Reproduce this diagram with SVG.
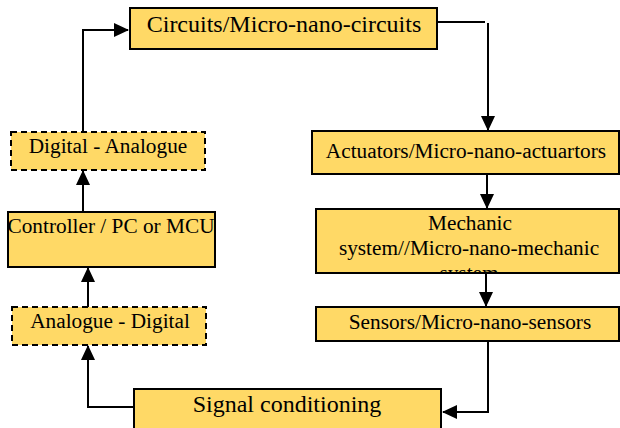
<svg xmlns="http://www.w3.org/2000/svg" width="620" height="428" viewBox="0 0 620 428">
<style>
.box{fill:#FFD966;stroke:#000;stroke-width:2}
.dash{stroke-dasharray:6 4}
.t{font-family:'Liberation Serif','Times New Roman',Times,serif;font-size:21.3px;fill:#000;text-anchor:middle}
.big{font-size:24px}
.c{fill:none;stroke:#000;stroke-width:2}
</style>
<defs>
<marker id="ah" markerUnits="userSpaceOnUse" markerWidth="15" markerHeight="14" refX="14" refY="7" orient="auto">
<path d="M0,0 L15,7 L0,14 z" fill="#000"/>
</marker>
<clipPath id="mclip"><rect x="316" y="209" width="303" height="64"/></clipPath>
</defs>
<rect width="620" height="428" fill="#fff"/>
<g id="connectors">
<path class="c" d="M83,132 V30 H128" marker-end="url(#ah)"/>
<path class="c" d="M437,22 H485" stroke-width="1.6"/>
<path class="c" d="M488,23 V130" marker-end="url(#ah)"/>
<path class="c" d="M487,174 V208" marker-end="url(#ah)"/>
<path class="c" d="M486,273 V306" marker-end="url(#ah)"/>
<path class="c" d="M488,341 V412 H443" marker-end="url(#ah)"/>
<path class="c" d="M134,407 H88 V346" marker-end="url(#ah)"/>
<path class="c" d="M88,307 V268" marker-end="url(#ah)"/>
<path class="c" d="M83,212 V171" marker-end="url(#ah)"/>
</g>
<g id="circuits">
<rect class="box" x="130" y="8" width="307" height="41"/>
<text class="t big" font-family="Liberation Serif, serif" x="284" y="32">Circuits/Micro-nano-circuits</text>
</g>
<g id="actuators">
<rect class="box" x="312" y="131" width="307" height="43"/>
<text class="t" font-family="Liberation Serif, serif" x="466" y="158">Actuators/Micro-nano-actuartors</text>
</g>
<g id="mechanic">
<rect class="box" x="316" y="209" width="303" height="64"/>
<g clip-path="url(#mclip)">
<text class="t" font-family="Liberation Serif, serif" x="470" y="230">Mechanic</text>
<text class="t" font-family="Liberation Serif, serif" x="469" y="255">system//Micro-nano-mechanic</text>
<text class="t" font-family="Liberation Serif, serif" x="469" y="280">system</text>
</g>
</g>
<g id="sensors">
<rect class="box" x="316" y="307" width="303" height="34"/>
<text class="t" font-family="Liberation Serif, serif" x="470" y="329">Sensors/Micro-nano-sensors</text>
</g>
<g id="signal">
<rect class="box" x="134" y="389" width="307" height="45"/>
<text class="t big" font-family="Liberation Serif, serif" x="287" y="412">Signal conditioning</text>
</g>
<g id="analogue-digital">
<rect class="box dash" x="12" y="307" width="194" height="38"/>
<text class="t" font-family="Liberation Serif, serif" x="110" y="328">Analogue - Digital</text>
</g>
<g id="controller">
<rect class="box" x="8" y="212" width="207" height="55"/>
<text class="t" font-family="Liberation Serif, serif" x="111" y="233">Controller / PC or MCU</text>
</g>
<g id="digital-analogue">
<rect class="box dash" x="11" y="132" width="194" height="38"/>
<text class="t" font-family="Liberation Serif, serif" x="108" y="153">Digital - Analogue</text>
</g>
</svg>
